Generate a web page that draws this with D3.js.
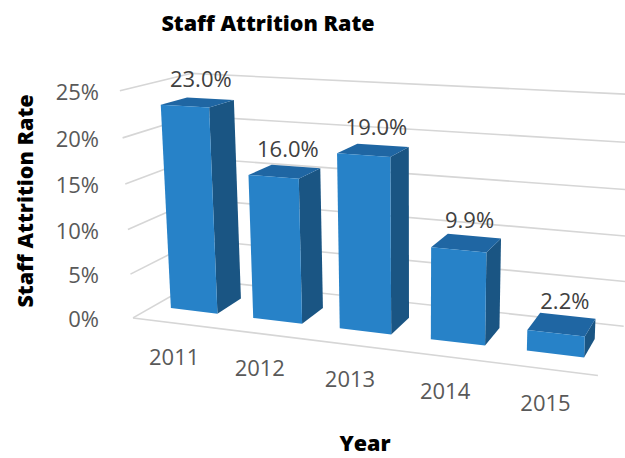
<!DOCTYPE html>
<html>
<head>
<meta charset="utf-8">
<script src="https://cdn.jsdelivr.net/npm/d3@7"></script>
<style>
  body { margin: 0; background: #fff; }
  text { font-family: "Open Sans", sans-serif; }
</style>
</head>
<body>
<svg width="625" height="458"></svg>
<script>
// chart data
var years = ["2011", "2012", "2013", "2014", "2015"];
var rates = [23.0, 16.0, 19.0, 9.9, 2.2];
var tickValues = [0, 5, 10, 15, 20, 25];

var svg = d3.select("svg");

//
// 3d camera (yaw / pitch / perspective)
//
var yaw = 19.1 * Math.PI / 180,
    pitch = 13.4 * Math.PI / 180,
    focal = 1192,
    centre = [415, 199],
    camPos = [-3.014, 1.271, 12.74]; // front-left floor corner in camera space

function project(p) {
  var x = p[0], y = p[1], z = p[2];
  var xr = x * Math.cos(yaw) + z * Math.sin(yaw);
  var zr = -x * Math.sin(yaw) + z * Math.cos(yaw);
  var cx = xr + camPos[0];
  var cy = -y * Math.cos(pitch) - zr * Math.sin(pitch) + camPos[1];
  var cz = -y * Math.sin(pitch) + zr * Math.cos(pitch) + camPos[2];
  return [centre[0] + focal * cx / cz, centre[1] + focal * cy / cz];
}

// scales in world units (one category = 1)
var x = d3.scaleBand().domain(years).range([0, 5])
  .paddingInner(0.4286).paddingOuter(0.2143);
var y = d3.scaleLinear().domain([0, 25]).range([0, 2.443]);
var floorDepth = 1.45, barFront = 0.42, barBack = 0.97;

var line = d3.line();
var grid = svg.append("g")
  .attr("fill", "none")
  .attr("stroke", "#d6d6d6")
  .attr("stroke-width", 1.6);

// back wall gridlines
grid.selectAll(".back").data(tickValues).join("path")
  .attr("class", "back")
  .attr("d", function(v) {
    return line([project([0, y(v), floorDepth]), project([5, y(v), floorDepth])]);
  });

// side wall gridlines
grid.selectAll(".side").data(tickValues).join("path")
  .attr("class", "side")
  .attr("d", function(v) {
    return line([project([0, y(v), 0]), project([0, y(v), floorDepth])]);
  });

// floor front edge
grid.append("path")
  .attr("d", line([project([0, 0, 0]), project([5, 0, 0])]));

// bars, left to right (right ones are nearer)
var bars = svg.selectAll(".bar")
  .data(years.map(function(d, i) { return { year: d, value: rates[i] }; }))
  .join("g")
  .attr("class", "bar");

function face(d, pts) {
  var x0 = x(d.year), x1 = x(d.year) + x.bandwidth(), h = y(d.value);
  return line(pts.map(function(p) {
    return project([p[0] ? x1 : x0, p[1] ? h : 0, p[2] ? barBack : barFront]);
  })) + "Z";
}

bars.append("path") // right side
  .attr("fill", "#1a5583")
  .attr("d", function(d) { return face(d, [[1,0,0],[1,1,0],[1,1,1],[1,0,1]]); });
bars.append("path") // top
  .attr("fill", "#1f66a3")
  .attr("d", function(d) { return face(d, [[0,1,0],[1,1,0],[1,1,1],[0,1,1]]); });
bars.append("path") // front
  .attr("fill", "#2782c8")
  .attr("d", function(d) { return face(d, [[0,0,0],[1,0,0],[1,1,0],[0,1,0]]); });

// data labels
bars.append("text")
  .attr("text-anchor", "middle")
  .attr("font-size", 22)
  .attr("fill", "#404040")
  .attr("transform", function(d) {
    var p = project([x(d.year) + x.bandwidth() / 2, y(d.value), (barFront + barBack) / 2]);
    return "translate(" + (p[0] + 3) + "," + (p[1] - 15) + ")";
  })
  .text(function(d) { return d.value.toFixed(1) + "%"; });

// value tick labels
var corner = project([0, 0, 0]);
svg.selectAll(".ytick").data(tickValues).join("text")
  .attr("class", "ytick")
  .attr("text-anchor", "end")
  .attr("dominant-baseline", "central")
  .attr("font-size", 22)
  .attr("fill", "#595959")
  .attr("x", corner[0] - 34)
  .attr("y", function(v) { return project([0, y(v), 0])[1]; })
  .text(function(v) { return v + "%"; });

// category labels
svg.selectAll(".xtick").data(years).join("text")
  .attr("class", "xtick")
  .attr("text-anchor", "middle")
  .attr("font-size", 22)
  .attr("fill", "#595959")
  .attr("x", function(d) { return project([x(d) + x.bandwidth() / 2, 0, 0])[0]; })
  .attr("y", function(d) { return project([x(d) + x.bandwidth() / 2, 0, 0])[1] + 42; })
  .text(function(d) { return d; });

// titles
svg.append("text")
  .attr("x", 268).attr("y", 31)
  .attr("text-anchor", "middle")
  .attr("font-size", 21.5).attr("font-weight", 800)
  .text("Staff Attrition Rate");

svg.append("text")
  .attr("transform", "translate(33,201) rotate(-90)")
  .attr("text-anchor", "middle")
  .attr("font-size", 21.5).attr("font-weight", 800)
  .text("Staff Attrition Rate");

svg.append("text")
  .attr("x", 365).attr("y", 451)
  .attr("text-anchor", "middle")
  .attr("font-size", 21.5).attr("font-weight", 800)
  .text("Year");
</script>
</body>
</html>
